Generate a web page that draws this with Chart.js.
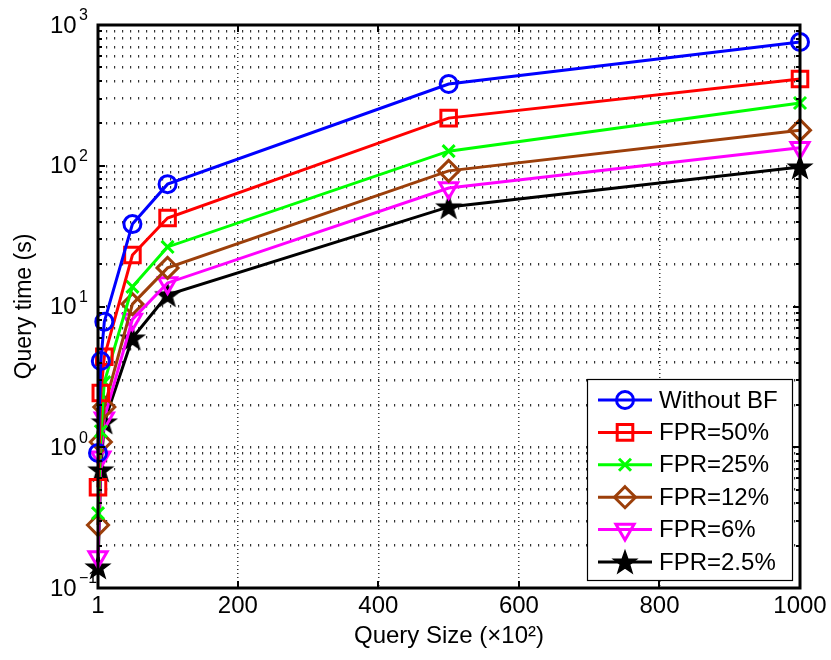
<!DOCTYPE html>
<html><head><meta charset="utf-8">
<script src="https://cdn.jsdelivr.net/npm/chart.js@4.4.1/dist/chart.umd.min.js"></script>
<style>html,body{margin:0;padding:0;background:#fff;} #wrap{width:831px;height:660px;}</style>
</head><body><div id="wrap"><canvas id="c" width="831" height="660"></canvas></div>
<script>
// ---- data ----
const querySize = [1, 5, 10, 50, 100, 500, 1000];
const withoutBF = [0.91, 4.1, 7.8, 38.5, 74, 381, 757];
const fpr50 = [0.52, 2.43, 4.4, 23.2, 42.5, 218, 413];
const fpr25 = [0.34, 1.3, 2.9, 13.8, 26.5, 127, 279];
const fpr12 = [0.28, 1.09, 1.93, 10.4, 18.8, 92, 179];
const fpr6 = [0.166, 0.85, 1.61, 8.1, 14.7, 69.5, 134];
const fpr2_5 = [0.141, 0.69, 1.51, 5.97, 12.1, 51, 98];
const seriesNames = ['Without BF', 'FPR=50%', 'FPR=25%', 'FPR=12%', 'FPR=6%', 'FPR=2.5%'];
const xTicks = [1, 200, 400, 600, 800, 1000];
const yDecades = [0.1, 1, 10, 100, 1000];
const yExponents = ['\u22121', '0', '1', '2', '3'];
const xTitle = 'Query Size (\u00d710\u00b2)';
const yTitle = 'Query time (s)';

const FONT = '"Liberation Sans", Arial, Helvetica, sans-serif';
Chart.defaults.font.family = FONT;

// filled pentagram marker
function makeStar(color, R) {
  const c = document.createElement('canvas');
  const s = Math.ceil(R * 2 + 4);
  c.width = s; c.height = s;
  const g = c.getContext('2d');
  const cx = s / 2, cy = s / 2 + 1, r = R * 0.4;
  g.beginPath();
  for (let i = 0; i < 10; i++) {
    const rr = i % 2 === 0 ? R : r;
    const a = -Math.PI / 2 + i * Math.PI / 5;
    const px = cx + rr * Math.cos(a), py = cy + rr * Math.sin(a);
    if (i === 0) g.moveTo(px, py); else g.lineTo(px, py);
  }
  g.closePath();
  g.fillStyle = color; g.fill();
  g.strokeStyle = color; g.lineWidth = 1.5; g.stroke();
  return c;
}
const starImg = makeStar('#000', 12);

const colors = ['#0000ff', '#ff0000', '#00ff00', '#9c3f0a', '#ff00ff', '#000000'];
const allSeries = [withoutBF, fpr50, fpr25, fpr12, fpr6, fpr2_5];
const LW = 3;
const markers = [
  {style: 'circle', r: 8.5, rot: 0, kind: 'circle'},
  {style: 'rect', r: 11, rot: 0, kind: 'rect'},
  {style: 'crossRot', r: 8.5, rot: 0, kind: 'cross'},
  {style: 'rectRot', r: 10.5, rot: 0, kind: 'diamond'},
  {style: 'triangle', r: 10.5, rot: 180, kind: 'tri'},
  {style: starImg, r: 10, rot: 0, kind: 'star'}
];

const datasets = allSeries.map((vals, k) => ({
  label: seriesNames[k],
  data: querySize.map((x, i) => ({x: x, y: vals[i]})),
  borderColor: colors[k],
  backgroundColor: colors[k],
  pointBorderColor: colors[k],
  pointBackgroundColor: 'rgba(0,0,0,0)',
  borderWidth: LW,
  pointBorderWidth: LW,
  pointRadius: markers[k].r,
  pointStyle: markers[k].style,
  pointRotation: markers[k].rot,
  tension: 0,
  fill: false,
  clip: false,
  _kind: markers[k].kind
}));

function drawMarker(ctx, kind, x, y, color) {
  ctx.save();
  ctx.strokeStyle = color; ctx.lineWidth = LW;
  ctx.beginPath();
  if (kind === 'circle') { ctx.arc(x, y, 8.5, 0, Math.PI * 2); ctx.stroke(); }
  else if (kind === 'rect') { ctx.rect(x - 7.8, y - 7.8, 15.6, 15.6); ctx.stroke(); }
  else if (kind === 'cross') { const d = 6; ctx.moveTo(x - d, y - d); ctx.lineTo(x + d, y + d); ctx.moveTo(x + d, y - d); ctx.lineTo(x - d, y + d); ctx.stroke(); }
  else if (kind === 'diamond') { ctx.moveTo(x, y - 10.5); ctx.lineTo(x + 10.5, y); ctx.lineTo(x, y + 10.5); ctx.lineTo(x - 10.5, y); ctx.closePath(); ctx.stroke(); }
  else if (kind === 'tri') { ctx.moveTo(x, y + 10.5); ctx.lineTo(x - 9.1, y - 5.25); ctx.lineTo(x + 9.1, y - 5.25); ctx.closePath(); ctx.stroke(); }
  else if (kind === 'star') { ctx.drawImage(starImg, x - starImg.width / 2, y - starImg.height / 2); }
  ctx.restore();
}

function yAllTicks() {
  const out = [];
  for (let d = 0; d < yDecades.length; d++) {
    out.push({value: yDecades[d], major: true});
    if (d < yDecades.length - 1) for (let k = 2; k <= 9; k++) out.push({value: yDecades[d] * k, major: false});
  }
  return out;
}

const framePlugin = {
  id: 'frame',
  afterDraw(chart) {
    const ctx = chart.ctx;
    const a = chart.chartArea;
    const ys = chart.scales.y, xs = chart.scales.x;
    ctx.save();
    // inward ticks
    ctx.strokeStyle = '#000'; ctx.lineWidth = 2;
    ctx.beginPath();
    yAllTicks().forEach(t => {
      const py = Math.round(ys.getPixelForValue(t.value));
      const len = t.major ? 7 : 4;
      ctx.moveTo(a.left, py); ctx.lineTo(a.left + len, py);
      ctx.moveTo(a.right, py); ctx.lineTo(a.right - len, py);
    });
    xTicks.forEach(v => {
      const px = Math.round(xs.getPixelForValue(v));
      ctx.moveTo(px, a.bottom); ctx.lineTo(px, a.bottom - 7);
      ctx.moveTo(px, a.top); ctx.lineTo(px, a.top + 7);
    });
    ctx.stroke();
    // box
    ctx.lineWidth = 3;
    ctx.strokeRect(a.left, a.top, a.right - a.left, a.bottom - a.top);
    // y tick labels 10^n
    ctx.fillStyle = '#000';
    ctx.textAlign = 'left';
    yDecades.forEach((v, i) => {
      const py = ys.getPixelForValue(v);
      ctx.font = '24px ' + FONT;
      ctx.textBaseline = 'middle';
      ctx.fillText('10', 50, py + 1);
      ctx.font = '16px ' + FONT;
      ctx.fillText(yExponents[i], 79, py - 9);
    });
    // legend
    const L = {x: 587, y: 379, w: 205, h: 201};
    ctx.fillStyle = '#fff';
    ctx.fillRect(L.x, L.y, L.w, L.h);
    ctx.lineWidth = 1.2; ctx.strokeStyle = '#000';
    ctx.strokeRect(L.x + 0.5, L.y + 0.5, L.w, L.h);
    chart.data.datasets.forEach((ds, i) => {
      const cy = 400 + i * 32.4;
      ctx.strokeStyle = ds.borderColor; ctx.lineWidth = LW;
      ctx.beginPath(); ctx.moveTo(598, cy); ctx.lineTo(652, cy); ctx.stroke();
      drawMarker(ctx, ds._kind, 625, cy, ds.borderColor);
      ctx.fillStyle = '#000';
      ctx.font = '24px ' + FONT;
      ctx.textBaseline = 'middle';
      ctx.textAlign = 'left';
      ctx.fillText(ds.label, 659, cy + 1);
    });
    ctx.restore();
  }
};

const edgeTransparent = (ends, col) => (c) => {
  if (c.tick && ends.some(e => Math.abs(e - c.tick.value) < 1e-9)) return 'rgba(0,0,0,0)';
  return col;
};

new Chart(document.getElementById('c'), {
  type: 'line',
  data: {datasets: datasets},
  options: {
    responsive: false,
    animation: false,
    devicePixelRatio: 1,
    layout: {padding: {top: 25, right: 31, left: 0, bottom: 0}},
    plugins: {legend: {display: false}, tooltip: {enabled: false}},
    scales: {
      x: {
        type: 'linear', min: 1, max: 1000,
        afterBuildTicks: s => { s.ticks = xTicks.map(v => ({value: v})); },
        afterFit: s => { s.height = 72; },
        ticks: {font: {size: 24}, color: '#000', padding: 4, maxRotation: 0, autoSkip: false, callback: v => String(v)},
        grid: {color: edgeTransparent([1, 1000], '#333'), lineWidth: 1.5, drawTicks: false},
        border: {display: false, dash: [1, 3]},
        title: {display: true, text: xTitle, color: '#000', font: {size: 24}, padding: {top: 0, bottom: 9}}
      },
      y: {
        type: 'logarithmic', min: 0.1, max: 1000,
        afterBuildTicks: s => { s.ticks = yAllTicks().map(t => ({value: t.value})); },
        afterFit: s => { s.width = 98; },
        ticks: {display: false},
        grid: {color: edgeTransparent([0.1, 1000], '#333'), lineWidth: 2.5, drawTicks: false},
        border: {display: false, dash: [1.2, 6.8]},
        title: {display: true, text: yTitle, color: '#000', font: {size: 23}, padding: {top: 11, bottom: 0}}
      }
    }
  },
  plugins: [framePlugin]
});
</script>
</body></html>
